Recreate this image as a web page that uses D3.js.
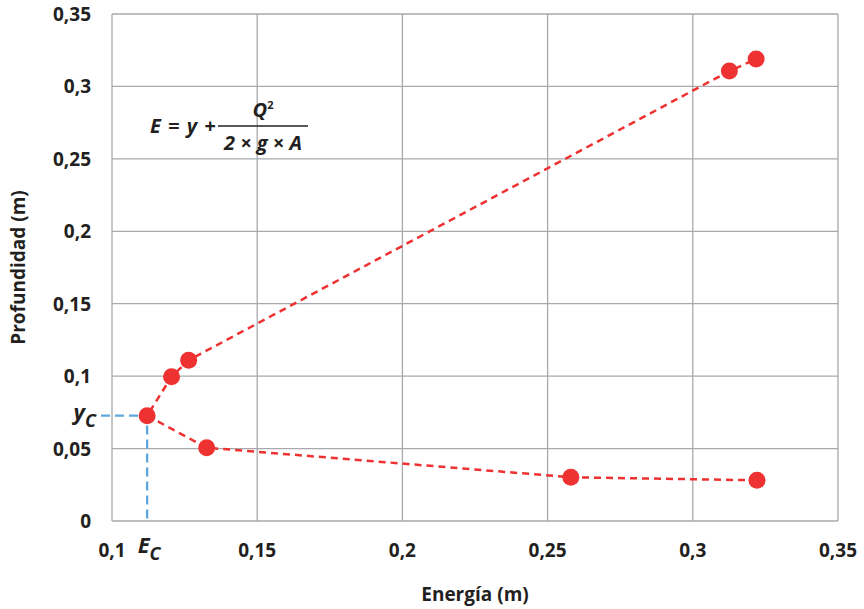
<!DOCTYPE html>
<html>
<head>
<meta charset="utf-8">
<script src="https://cdn.jsdelivr.net/npm/d3@7"></script>
<style>
  body { margin: 0; background: #fff; }
  text { font-family: "Open Sans", "Noto Sans", sans-serif; fill: #231f20; font-weight: bold; }
</style>
</head>
<body>
<div id="my_dataviz"></div>
<script>
// data (energia vs profundidad)
var energia = [0.3221, 0.2580, 0.1326, 0.1121, 0.1205, 0.1264, 0.3126, 0.3218];
var profundidad = [0.0281, 0.0302, 0.0506, 0.0727, 0.0996, 0.1110, 0.3106, 0.3189];
var xTicks = [0.1, 0.15, 0.2, 0.25, 0.3, 0.35];
var yTicks = [0, 0.05, 0.1, 0.15, 0.2, 0.25, 0.3, 0.35];
var critico = {E: 0.1121, y: 0.0727};

var fmt = function(d) { return String(d).replace(".", ","); };

var W = 864, H = 609;
var margin = {top: 14, right: 26, bottom: 88, left: 112};
var width = W - margin.left - margin.right,
    height = H - margin.top - margin.bottom;

var svg = d3.select("#my_dataviz")
  .append("svg")
  .attr("width", W)
  .attr("height", H)
  .append("g")
  .attr("transform", "translate(" + margin.left + "," + margin.top + ")");

var x = d3.scaleLinear().domain([0.1, 0.35]).range([0, width]);
var y = d3.scaleLinear().domain([0, 0.35]).range([height, 0]);

// grid
svg.append("g").selectAll("line.v")
  .data(xTicks).enter().append("line")
  .attr("x1", function(d) { return x(d); }).attr("x2", function(d) { return x(d); })
  .attr("y1", 0).attr("y2", height)
  .attr("stroke", "#a7a9ac").attr("stroke-width", 1.3);
svg.append("g").selectAll("line.h")
  .data(yTicks).enter().append("line")
  .attr("y1", function(d) { return y(d); }).attr("y2", function(d) { return y(d); })
  .attr("x1", 0).attr("x2", width)
  .attr("stroke", "#a7a9ac").attr("stroke-width", 1.3);

// tick labels
svg.append("g").selectAll("text")
  .data(xTicks).enter().append("text")
  .attr("x", function(d) { return x(d); })
  .attr("y", height + 36)
  .attr("text-anchor", "middle")
  .style("font-size", "19px")
  .text(fmt);
svg.append("g").selectAll("text")
  .data(yTicks).enter().append("text")
  .attr("x", -21)
  .attr("y", function(d) { return y(d) + 7; })
  .attr("text-anchor", "end")
  .style("font-size", "19px")
  .text(fmt);

// axis titles
svg.append("text")
  .attr("x", width / 2).attr("y", height + 80)
  .attr("text-anchor", "middle")
  .style("font-size", "19px")
  .text("Energía (m)");
svg.append("text")
  .attr("transform", "translate(" + (-87) + "," + (height / 2) + ") rotate(-90)")
  .attr("text-anchor", "middle")
  .style("font-size", "19px")
  .text("Profundidad (m)");

// critical point guides
svg.append("path")
  .attr("d", "M" + (-11) + "," + y(critico.y) + "H" + x(critico.E) + "V" + (height + 2))
  .attr("fill", "none")
  .attr("stroke", "#5ea7dc").attr("stroke-width", 2.3)
  .attr("stroke-dasharray", "9,5");

var yc = svg.append("text")
  .attr("x", -16).attr("y", y(critico.y) + 4)
  .attr("text-anchor", "end")
  .style("font-size", "22px").style("font-style", "italic");
yc.append("tspan").text("y");
yc.append("tspan").attr("dy", 7).style("font-size", "18px").text("C");

var ec = svg.append("text")
  .attr("x", x(critico.E) + 2).attr("y", height + 32)
  .attr("text-anchor", "middle")
  .style("font-size", "22px").style("font-style", "italic");
ec.append("tspan").text("E");
ec.append("tspan").attr("dy", 7).style("font-size", "18px").text("C");

// dashed curve
var pts = energia.map(function(e, i) { return [e, profundidad[i]]; });
svg.append("path")
  .datum(pts)
  .attr("d", d3.line().x(function(d) { return x(d[0]); }).y(function(d) { return y(d[1]); }))
  .attr("fill", "none")
  .attr("stroke", "#ee3131").attr("stroke-width", 2.5)
  .attr("stroke-dasharray", "7,5");

svg.append("g").selectAll("circle")
  .data(pts).enter().append("circle")
  .attr("cx", function(d) { return x(d[0]); })
  .attr("cy", function(d) { return y(d[1]); })
  .attr("r", 8.5)
  .attr("fill", "#ee3131");

// formula
var f = svg.append("g").attr("transform", "translate(38,112)");
f.append("text")
  .attr("x", 0).attr("y", 7)
  .style("font-size", "20px").style("font-style", "italic")
  .style("word-spacing", "2px")
  .text("E = y +");
f.append("line")
  .attr("x1", 68).attr("x2", 158).attr("y1", 0).attr("y2", 0)
  .attr("stroke", "#231f20").attr("stroke-width", 1.3);
var q = f.append("text")
  .attr("x", 113).attr("y", -9)
  .attr("text-anchor", "middle")
  .style("font-size", "20px").style("font-style", "italic");
q.append("tspan").text("Q");
q.append("tspan").attr("dy", -8).style("font-size", "11px").style("font-style", "normal").text("2");
f.append("text")
  .attr("x", 113).attr("y", 24)
  .attr("text-anchor", "middle")
  .style("font-size", "20px").style("font-style", "italic")
  .text("2 × g × A");
</script>
</body>
</html>
